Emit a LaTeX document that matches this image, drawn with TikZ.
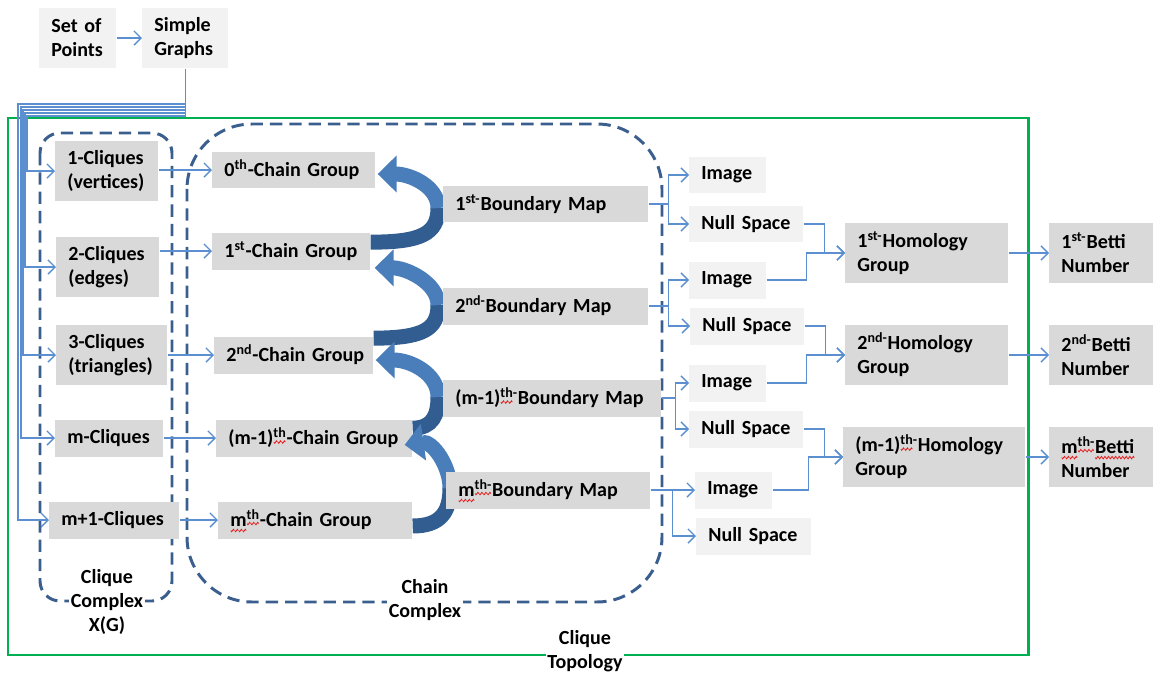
\documentclass[tikz,border=0pt]{standalone}
\usepackage{fontspec}
\setmainfont{Carlito}
\usetikzlibrary{arrows.meta,calc}

\definecolor{boxgray}{HTML}{D9D9D9}
\definecolor{boxlight}{HTML}{F2F2F2}
\definecolor{linkblue}{HTML}{5B8FCF}
\definecolor{dashblue}{HTML}{3A5F8E}
\definecolor{framegreen}{HTML}{00B050}
\definecolor{arrowdark}{HTML}{325D91}
\definecolor{arrowlight}{HTML}{4A7EBB}

% red spell-check wave under a word
\newcommand\sqw[1]{\leavevmode\setbox0\hbox{#1}\rlap{\raisebox{-2.4pt}{\hbox to\wd0{\xleaders\hbox to 2pt{\special{pdf:content 0.9 0.1 0.1 RG 0.45 w 0 0 m 0.5 -0.7 l 1.5 0.7 l 2 0 l S}\hfil}\hfill}}}\box0}
\exhyphenpenalty=10000
\hyphenpenalty=10000

\tikzset{
  gbox/.style={fill=boxgray, anchor=west, align=left, inner xsep=0.24cm, inner ysep=0pt, minimum height=0.74cm},
  lbox/.style={gbox, fill=boxlight},
  tall/.style={minimum height=1.22cm},
  link/.style={draw=linkblue, line width=0.8pt, -{Straight Barb[length=4pt,width=8pt]}},
  dashbox/.style={draw=dashblue, line width=1.7pt, dash pattern=on 7pt off 4pt},
  lbl/.style={fill=white, align=center, inner sep=1pt},
  bshaft/.style={line width=0.3cm},
  bhead/.style={bshaft, draw=arrowlight, -{Triangle[length=0.38cm,width=0.72cm]}}
}

\begin{document}
\begin{tikzpicture}[x=0.02cm, y=-0.02cm, font=\fontsize{11.4}{13.6}\selectfont\bfseries]
\useasboundingbox (0,0) rectangle (1154,673);

% frames
\draw[draw=framegreen, line width=1.7pt] (8,118) rectangle (1028,655);
\draw[dashbox, rounded corners=0.4cm] (40,133) rectangle (172,601);
\draw[dashbox, rounded corners=1.3cm] (187,124) rectangle (662,602);
\node[lbl] (lcc) at (107,602) {Clique\\Complex\\X(G)};
\node[lbl] (lch) at (425,600) {Chain\\Complex};
\node[lbl] (ltop) at (585,651) {Clique\\Topology};

% inputs
\node[lbox, tall, text width=1.06cm] (sop) at (39,38) {Set~of\\Points};
\node[lbox, tall, text width=1.24cm] (sg) at (142,38) {Simple\\Graphs};

% cliques
\node[gbox, tall, text width=1.58cm] (c1) at (55,171) {1-Cliques\\(vertices)};
\node[gbox, tall, text width=1.58cm] (c2) at (56,267) {2-Cliques\\(edges)};
\node[gbox, tall, text width=1.74cm] (c3) at (56,355) {3-Cliques\\(triangles)};
\node[gbox, text width=1.68cm] (c4) at (55,438) {m-Cliques};
\node[gbox, text width=2.12cm] (c5) at (49,520) {m+1-Cliques};

% chain groups
\node[gbox, text width=2.78cm] (g0) at (212,170) {0\textsuperscript{th}-Chain~Group};
\node[gbox, text width=2.68cm] (g1) at (212,251) {1\textsuperscript{st}-Chain~Group};
\node[gbox, text width=2.70cm] (g2) at (214,355) {2\textsuperscript{nd}-Chain~Group};
\node[gbox, text width=3.44cm] (g3) at (216,438) {(m-1)\textsuperscript{\sqw{th}}-Chain~Group};
\node[gbox, text width=3.40cm] (g4) at (218,520) {\sqw{m}\textsuperscript{\sqw{th}}-Chain~Group};

% boundary arrows
\draw[bshaft, draw=arrowdark] ($(g1.north east)+(0,10)$) .. controls +(50,0) and +(0,26) .. (438,208);
\draw[bhead] (438,208) .. controls +(0,-22) and +(32,0) .. ($(g0.east)+(2,4)$);
\draw[bshaft, draw=arrowdark] ($(g2.north east)+(0,2)$) .. controls +(50,0) and +(0,24) .. (438,305);
\draw[bhead] (438,305) .. controls +(0,-22) and +(32,0) .. ($(g1.south east)+(4,-2)$);
\draw[bshaft, draw=arrowdark] ($(g3.north east)+(0,9)$) .. controls +(20,0) and +(0,18) .. (438,397);
\draw[bhead] (438,397) .. controls +(0,-24) and +(34,0) .. ($(g2.east)+(2,5)$);
\draw[bshaft, draw=arrowdark] ($(g4.east)+(0,6)$) .. controls +(28,0) and +(0,24) .. (450,488);
\draw[bhead] (450,488) .. controls +(0,-22) and +(28,-4) .. ($(g3.south east)+(-8,-12)$);

% boundary maps
\node[gbox, text width=3.62cm] (b1) at (443,204) {1\textsuperscript{st-}Boundary~Map};
\node[gbox, text width=3.62cm] (b2) at (443,306) {2\textsuperscript{nd-}Boundary~Map};
\node[gbox, text width=3.88cm] (b3) at (443,398) {(m-1)\textsuperscript{\sqw{th}-}Boundary~Map};
\node[gbox, text width=3.60cm] (b4) at (446,490) {\sqw{m}\textsuperscript{\sqw{th-}}Boundary~Map};

% image / null space
\node[lbox, text width=1.06cm] (im1) at (689,175) {Image};
\node[lbox, text width=1.80cm] (ns1) at (689,224) {Null~Space};
\node[lbox, text width=1.06cm] (im2) at (689,280) {Image};
\node[lbox, text width=1.80cm] (ns2) at (690,326) {Null~Space};
\node[lbox, text width=1.06cm] (im3) at (689,383) {Image};
\node[lbox, text width=1.80cm] (ns3) at (689,429) {Null~Space};
\node[lbox, text width=1.06cm] (im4) at (695,490) {Image};
\node[lbox, text width=1.82cm] (ns4) at (696,536) {Null~Space};

% homology and betti
\node[gbox, tall, text width=2.78cm] (h1) at (845,253) {1\textsuperscript{st-}Homology\\Group};
\node[gbox, tall, text width=2.78cm] (h2) at (845,355) {2\textsuperscript{nd-}Homology\\Group};
\node[gbox, tall, text width=3.16cm] (h3) at (843,457) {(m-1)\textsuperscript{\sqw{th}-}Homology\\Group};
\node[gbox, tall, text width=1.60cm] (be1) at (1049,253) {1\textsuperscript{st-}Betti\\Number};
\node[gbox, tall, text width=1.60cm] (be2) at (1049,355) {2\textsuperscript{nd-}Betti\\Number};
\node[gbox, tall, text width=1.60cm] (be3) at (1049,457) {\sqw{m}\textsuperscript{\sqw{th-}}\sqw{Betti}\\Number};

% connectors
\draw[link] (sop) -- (sg);
\draw[link] (sg.south) |- (18,104) |- (c5.west);
\draw[link] (sg.south) |- (21,107) |- (c4.west);
\draw[link] (sg.south) |- (23,110) |- (c3.west);
\draw[link] (sg.south) |- (25,113) |- (c2.west);
\draw[link] (sg.south) |- (27,116) |- (c1.west);
\draw[link] (c1.east |- g0.west) -- (g0.west);
\draw[link] (c2.east |- g1.west) -- (g1.west);
\draw[link] (c3.east |- g2.west) -- (g2.west);
\draw[link] (c4.east |- g3.west) -- (g3.west);
\draw[link] (c5.east |- g4.west) -- (g4.west);

\draw[link, -] (b1.east) -- ++(20,0) coordinate (k1);
\draw[link] (k1) |- (im1.west);
\draw[link] (k1) |- (ns1.west);
\draw[link, -] (b2.east) -- ++(20,0) coordinate (k2);
\draw[link] (k2) |- (im2.west);
\draw[link] (k2) |- (ns2.west);
\draw[link, -] (b3.east) -- ++(14,0) coordinate (k3);
\draw[link] (k3) |- (im3.west);
\draw[link] (k3) |- (ns3.west);
\draw[link] (b4.east) -- (im4.west);
\draw[link] (b4.east) -- ++(22,0) |- (ns4.west);

\draw[link] (ns1.east) -- ++(21,0) |- (h1.west);
\draw[link] (im2.east) -- ++(40,0) |- (h1.west);
\draw[link] (ns2.east) -- ++(21,0) |- (h2.west);
\draw[link] (im3.east) -- ++(40,0) |- (h2.west);
\draw[link] (ns3.east) -- ++(21,0) |- (h3.west);
\draw[link] (im4.east) -- ++(36,0) |- (h3.west);
\draw[link] (h1) -- (be1);
\draw[link] (h2) -- (be2);
\draw[link] (h3) -- (be3);
\end{tikzpicture}
\end{document}
